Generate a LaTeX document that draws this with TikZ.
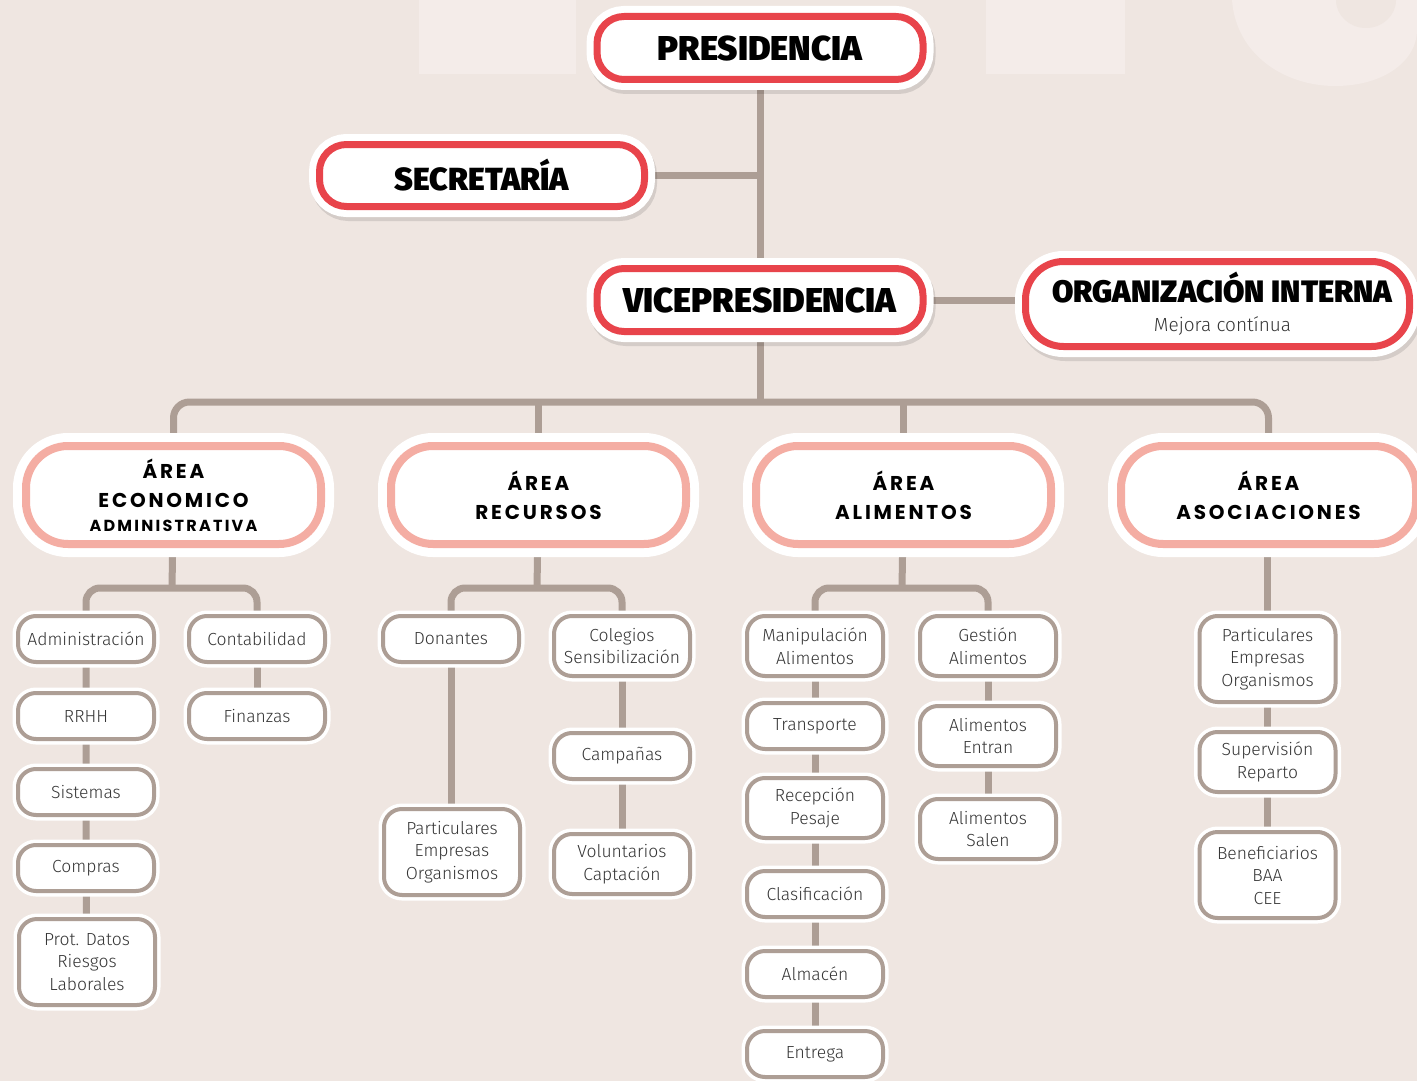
\documentclass[tikz,border=0pt]{standalone}
\usepackage{fontspec}
\newfontfamily\heavyfont{Fira Sans Black}
\newfontfamily\areafont[LetterSpace=14]{Poppins Bold}
\newfontfamily\lightfont{Fira Sans Light}
\usetikzlibrary{shadows,backgrounds}

\definecolor{bgc}{HTML}{EFE6E1}
\definecolor{markc}{HTML}{F4ECE9}
\definecolor{redc}{HTML}{E8444B}
\definecolor{pinkc}{HTML}{F4ADA3}
\definecolor{taupe}{HTML}{AD9E95}
\definecolor{txtc}{HTML}{353535}

\tikzset{
  topbox/.style={draw=white, line width=7pt, double=redc, double distance=7pt, fill=white,
    rounded corners=27pt, minimum width=326pt, minimum height=63pt, inner sep=0pt, align=center,
    font=\heavyfont\fontsize{34.5}{36}\selectfont,
    drop shadow={shadow xshift=2pt, shadow yshift=-4pt, opacity=.11, fill=black, draw=black, line width=21pt}},
  areabox/.style={draw=white, line width=9pt, double=pinkc, double distance=8pt, fill=white,
    rounded corners=42pt, minimum width=295pt, minimum height=98pt, inner sep=0pt, align=center,
    font=\areafont\fontsize{20}{29}\selectfont},
  unitbox/.style={draw=white, line width=3.5pt, double=taupe, double distance=4pt, fill=white,
    rounded corners=18pt, minimum width=136pt, minimum height=46pt, inner sep=0pt, align=center,
    text=txtc, font=\lightfont\fontsize{17.5}{22.5}\selectfont},
  tall/.style={minimum height=60pt},
  taller/.style={minimum height=86pt},
  link/.style={draw=taupe, line width=7pt},
}

\begin{document}
\begin{tikzpicture}[x=1pt, y=-1pt]
\useasboundingbox (0,0) rectangle (1417,1081);

% direccion
\node[topbox] (pres) at (760,48) {PRESIDENCIA};
\node[topbox, minimum width=325pt, minimum height=62pt, font=\heavyfont\fontsize{32}{34}\selectfont]
  (secr) at (482,175.5) {SECRETARÍA};
\node[topbox] (vice) at (760,300) {VICEPRESIDENCIA};
\node[topbox, minimum width=384pt, minimum height=85pt, rounded corners=38pt,
  font=\heavyfont\fontsize{31}{32}\selectfont] (org) at (1217.5,304)
  {\hspace*{10pt}ORGANIZACIÓN INTERNA\\[-3pt]{\lightfont\fontsize{19}{22}\selectfont\color{txtc}\hspace*{10pt}Mejora contínua}};

% areas
\node[areabox] (a1) at (173.5,495) {ÁREA\\ECONOMICO\\[-5pt]{\fontsize{16}{20}\selectfont ADMINISTRATIVA}};
\node[areabox] (a2) at (538.5,495) {ÁREA\\RECURSOS};
\node[areabox] (a3) at (903.5,495) {ÁREA\\ALIMENTOS};
\node[areabox] (a4) at (1268.5,495) {ÁREA\\ASOCIACIONES};

% economico administrativa
\node[unitbox] (adm) at (86,639) {Administración};
\node[unitbox] (rrhh) at (86,716) {RRHH};
\node[unitbox] (sist) at (86,792) {Sistemas};
\node[unitbox] (comp) at (86,868) {Compras};
\node[unitbox, taller] (prot) at (87,962) {Prot. Datos\\Riesgos\\Laborales};
\node[unitbox] (cont) at (257,639) {Contabilidad};
\node[unitbox] (fin) at (257,716) {Finanzas};

% recursos
\node[unitbox] (don) at (451,639) {Donantes};
\node[unitbox, taller] (part) at (452,852) {Particulares\\Empresas\\Organismos};
\node[unitbox, tall] (col) at (622,646) {Colegios\\Sensibilización};
\node[unitbox] (camp) at (622,756) {Campañas};
\node[unitbox, tall] (vol) at (622,864) {Voluntarios\\Captación};

% alimentos
\node[unitbox, tall] (man) at (815,646) {Manipulación\\Alimentos};
\node[unitbox] (trans) at (815,726) {Transporte};
\node[unitbox, tall] (rec) at (815,808) {Recepción\\Pesaje};
\node[unitbox] (clas) at (815,894) {Clasificación};
\node[unitbox] (alm) at (815,974) {Almacén};
\node[unitbox] (ent) at (815,1054) {Entrega};
\node[unitbox, tall] (ges) at (988,646) {Gestión\\Alimentos};
\node[unitbox, tall] (entr) at (988,736) {Alimentos\\Entran};
\node[unitbox, tall] (sal) at (988,829) {Alimentos\\Salen};

% asociaciones
\node[unitbox, taller] (part2) at (1267.5,659) {Particulares\\Empresas\\Organismos};
\node[unitbox, tall] (sup) at (1267.5,762) {Supervisión\\Reparto};
\node[unitbox, taller] (ben) at (1267.5,875) {Beneficiarios\\BAA\\CEE};

\begin{scope}[on background layer]
\fill[bgc] (0,0) rectangle (1417,1081);
% marca de agua
\fill[markc] (419,0) rectangle (576,74);
\fill[markc] (986,0) rectangle (1125,74);
\fill[markc] (1232,0) .. controls (1236,55) and (1285,86) .. (1335,86)
  .. controls (1385,86) and (1417,60) .. (1417,30) -- (1417,0) -- cycle;
\fill[bgc] (1366,0) ellipse [x radius=30, y radius=28];

\coordinate (bus) at (760,402);
\coordinate (f1) at (172,588);
\coordinate (f2) at (537,588);
\coordinate (f3) at (902,588);

\draw[link] (pres) -- (vice);
\draw[link] (secr.east) -- (secr.east -| pres.south);
\draw[link] (vice.east) -- (vice.east -| org.west);
\draw[link] (vice) -- (bus);
\draw[link, rounded corners=16pt] (a1.north) |- (bus) -| (a4.north);
\draw[link] (a2) -- (a2 |- bus);
\draw[link] (a3) -- (a3 |- bus);

\draw[link] (a1) -- (f1);
\draw[link, rounded corners=14pt] (adm.north) |- (f1) -| (cont.north);
\draw[link] (adm) -- (rrhh) -- (sist) -- (comp) -- (prot);
\draw[link] (cont) -- (fin);

\draw[link] (a2) -- (f2);
\draw[link, rounded corners=14pt] (don.north) |- (f2) -| (col.north);
\draw[link] (don) -- (don |- part.north);
\draw[link] (col) -- (camp) -- (vol);

\draw[link] (a3) -- (f3);
\draw[link, rounded corners=14pt] (man.north) |- (f3) -| (ges.north);
\draw[link] (man) -- (trans) -- (rec) -- (clas) -- (alm) -- (ent);
\draw[link] (ges) -- (entr) -- (sal);

\draw[link] (a4.south -| part2) -- (part2) -- (sup) -- (ben);
\end{scope}
\end{tikzpicture}
\end{document}
